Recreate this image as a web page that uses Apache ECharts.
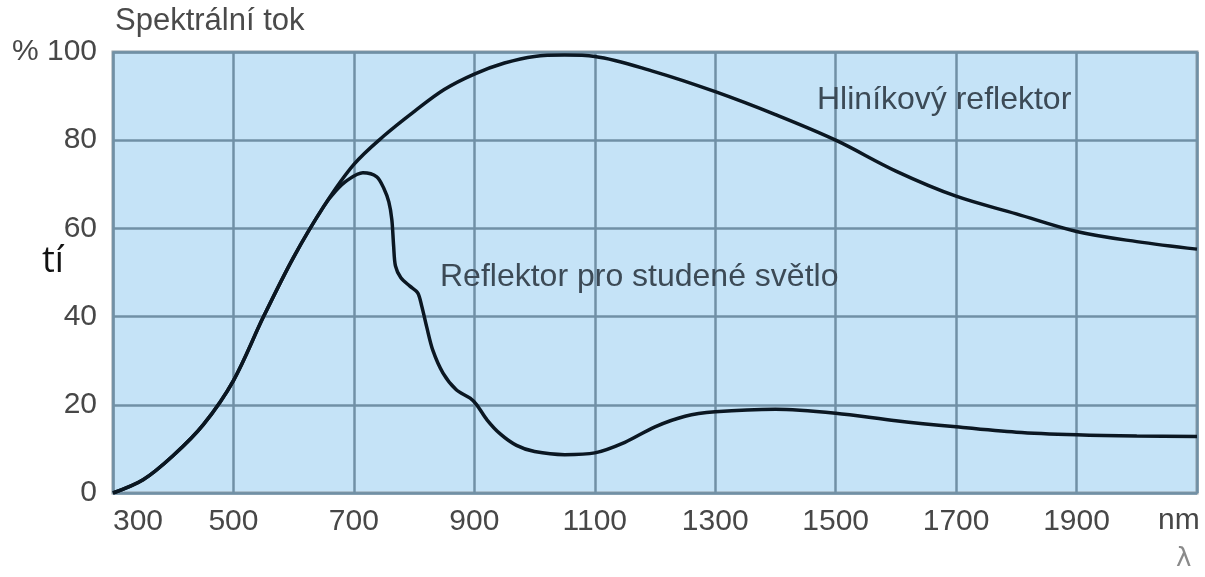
<!DOCTYPE html>
<html>
<head>
<meta charset="utf-8">
<script src="https://cdn.jsdelivr.net/npm/echarts@6/dist/echarts.min.js"></script>
<style>
  html, body { margin: 0; padding: 0; background: #fff; }
  #chart { width: 1205px; height: 577px; }
</style>
</head>
<body>
<div id="chart"></div>
<script>
// Hliníkový reflektor (aluminium reflector)
const alWave = [300, 350, 400, 450, 500, 550, 600, 650, 700, 750, 800, 850, 900, 950, 1000, 1050, 1100, 1200, 1300, 1400, 1500, 1600, 1700, 1800, 1900, 2000, 2100]
const alFlux = [0, 3, 8.5, 15.5, 25.5, 40, 53.5, 65, 74.5, 81, 86.5, 91.5, 95, 97.5, 99, 99.3, 99, 95.5, 91, 85.8, 80, 73, 67.3, 63.3, 59.3, 57, 55.3]

// Reflektor pro studené světlo (cold-light reflector)
const coldWave = [300, 350, 400, 450, 500, 550, 600, 650, 670, 690, 715, 738, 750, 758, 763, 766, 769, 778, 793, 806, 813, 821, 831, 848, 870, 893, 904, 921, 943, 970, 1000, 1050, 1100, 1150, 1200, 1250, 1300, 1400, 1500, 1600, 1700, 1800, 1900, 2000, 2100]
const coldFlux = [0, 3, 8.5, 15.5, 25.5, 40, 53.5, 65, 68.5, 71, 72.6, 71.7, 69, 66, 62, 56, 51.5, 48.8, 46.9, 45.4, 42.2, 37.6, 32.4, 27.2, 23.4, 21.5, 20, 16.6, 13.4, 10.8, 9.4, 8.7, 9.1, 11.5, 15, 17.4, 18.4, 19, 18.1, 16.4, 15, 13.8, 13.2, 12.9, 12.8]

const xTicks = { min: 300, max: 2100, step: 200 }
const yTicks = { min: 0, max: 100, step: 20 }

const chart = echarts.init(document.getElementById('chart'))

const labelFont = 'Liberation Sans, Arial, sans-serif'
const lineColor = '#0b1722'

chart.setOption({
  animation: false,
  backgroundColor: '#ffffff',
  grid: {
    left: 113, right: 8, top: 52, bottom: 84,
    show: true,
    backgroundColor: '#c5e3f7',
    borderColor: '#8d9ba5',
    borderWidth: 3,
  },
  xAxis: {
    type: 'value',
    min: xTicks.min, max: xTicks.max, interval: xTicks.step,
    axisLine: { show: false },
    axisTick: { show: false },
    splitLine: { show: true, lineStyle: { color: '#7090a6', width: 2.5 } },
    axisLabel: {
      margin: 14,
      showMaxLabel: false,
      alignMinLabel: 'left',
      color: '#474747',
      fontSize: 30,
      fontFamily: labelFont,
      formatter: v => String(v),
    },
  },
  yAxis: {
    type: 'value',
    min: yTicks.min, max: yTicks.max, interval: yTicks.step,
    axisLine: { show: false },
    axisTick: { show: false },
    splitLine: { show: true, lineStyle: { color: '#7090a6', width: 2.5 } },
    axisLabel: {
      margin: 16,
      color: '#474747',
      fontSize: 30,
      fontFamily: labelFont,
      formatter: v => (v === 100 ? '% 100' : String(v)),
    },
  },
  series: [
    {
      name: 'Hliníkový reflektor',
      type: 'line',
      data: alWave.map((w, i) => [w, alFlux[i]]),
      smooth: 0.35,
      showSymbol: false,
      lineStyle: { color: lineColor, width: 3.5 },
      z: 3,
    },
    {
      name: 'Reflektor pro studené světlo',
      type: 'line',
      data: coldWave.map((w, i) => [w, coldFlux[i]]),
      smooth: 0.3,
      showSymbol: false,
      lineStyle: { color: lineColor, width: 3.5 },
      z: 3,
    },
  ],
  graphic: [
    { type: 'text', left: 115, top: 6, style: { text: 'Spektrální tok', fill: '#4a4a4a', font: '31px ' + labelFont } },
    { type: 'text', left: 817, top: 84, z: 10, style: { text: 'Hliníkový reflektor', fill: '#3c4a56', font: '32px ' + labelFont } },
    { type: 'text', left: 440, top: 261, z: 10, style: { text: 'Reflektor pro studené světlo', fill: '#3c4a56', font: '32px ' + labelFont } },
    { type: 'text', left: 1158, top: 506, style: { text: 'nm', fill: '#474747', font: '30px ' + labelFont } },
    { type: 'text', left: 1176, top: 546, style: { text: 'λ', fill: '#8a8a8a', font: '26px DejaVu Sans' } },
    { type: 'text', left: 42, top: 244, style: { text: 'tí', fill: '#111111', font: '36px Open Sans' } },
  ],
})
</script>
</body>
</html>
